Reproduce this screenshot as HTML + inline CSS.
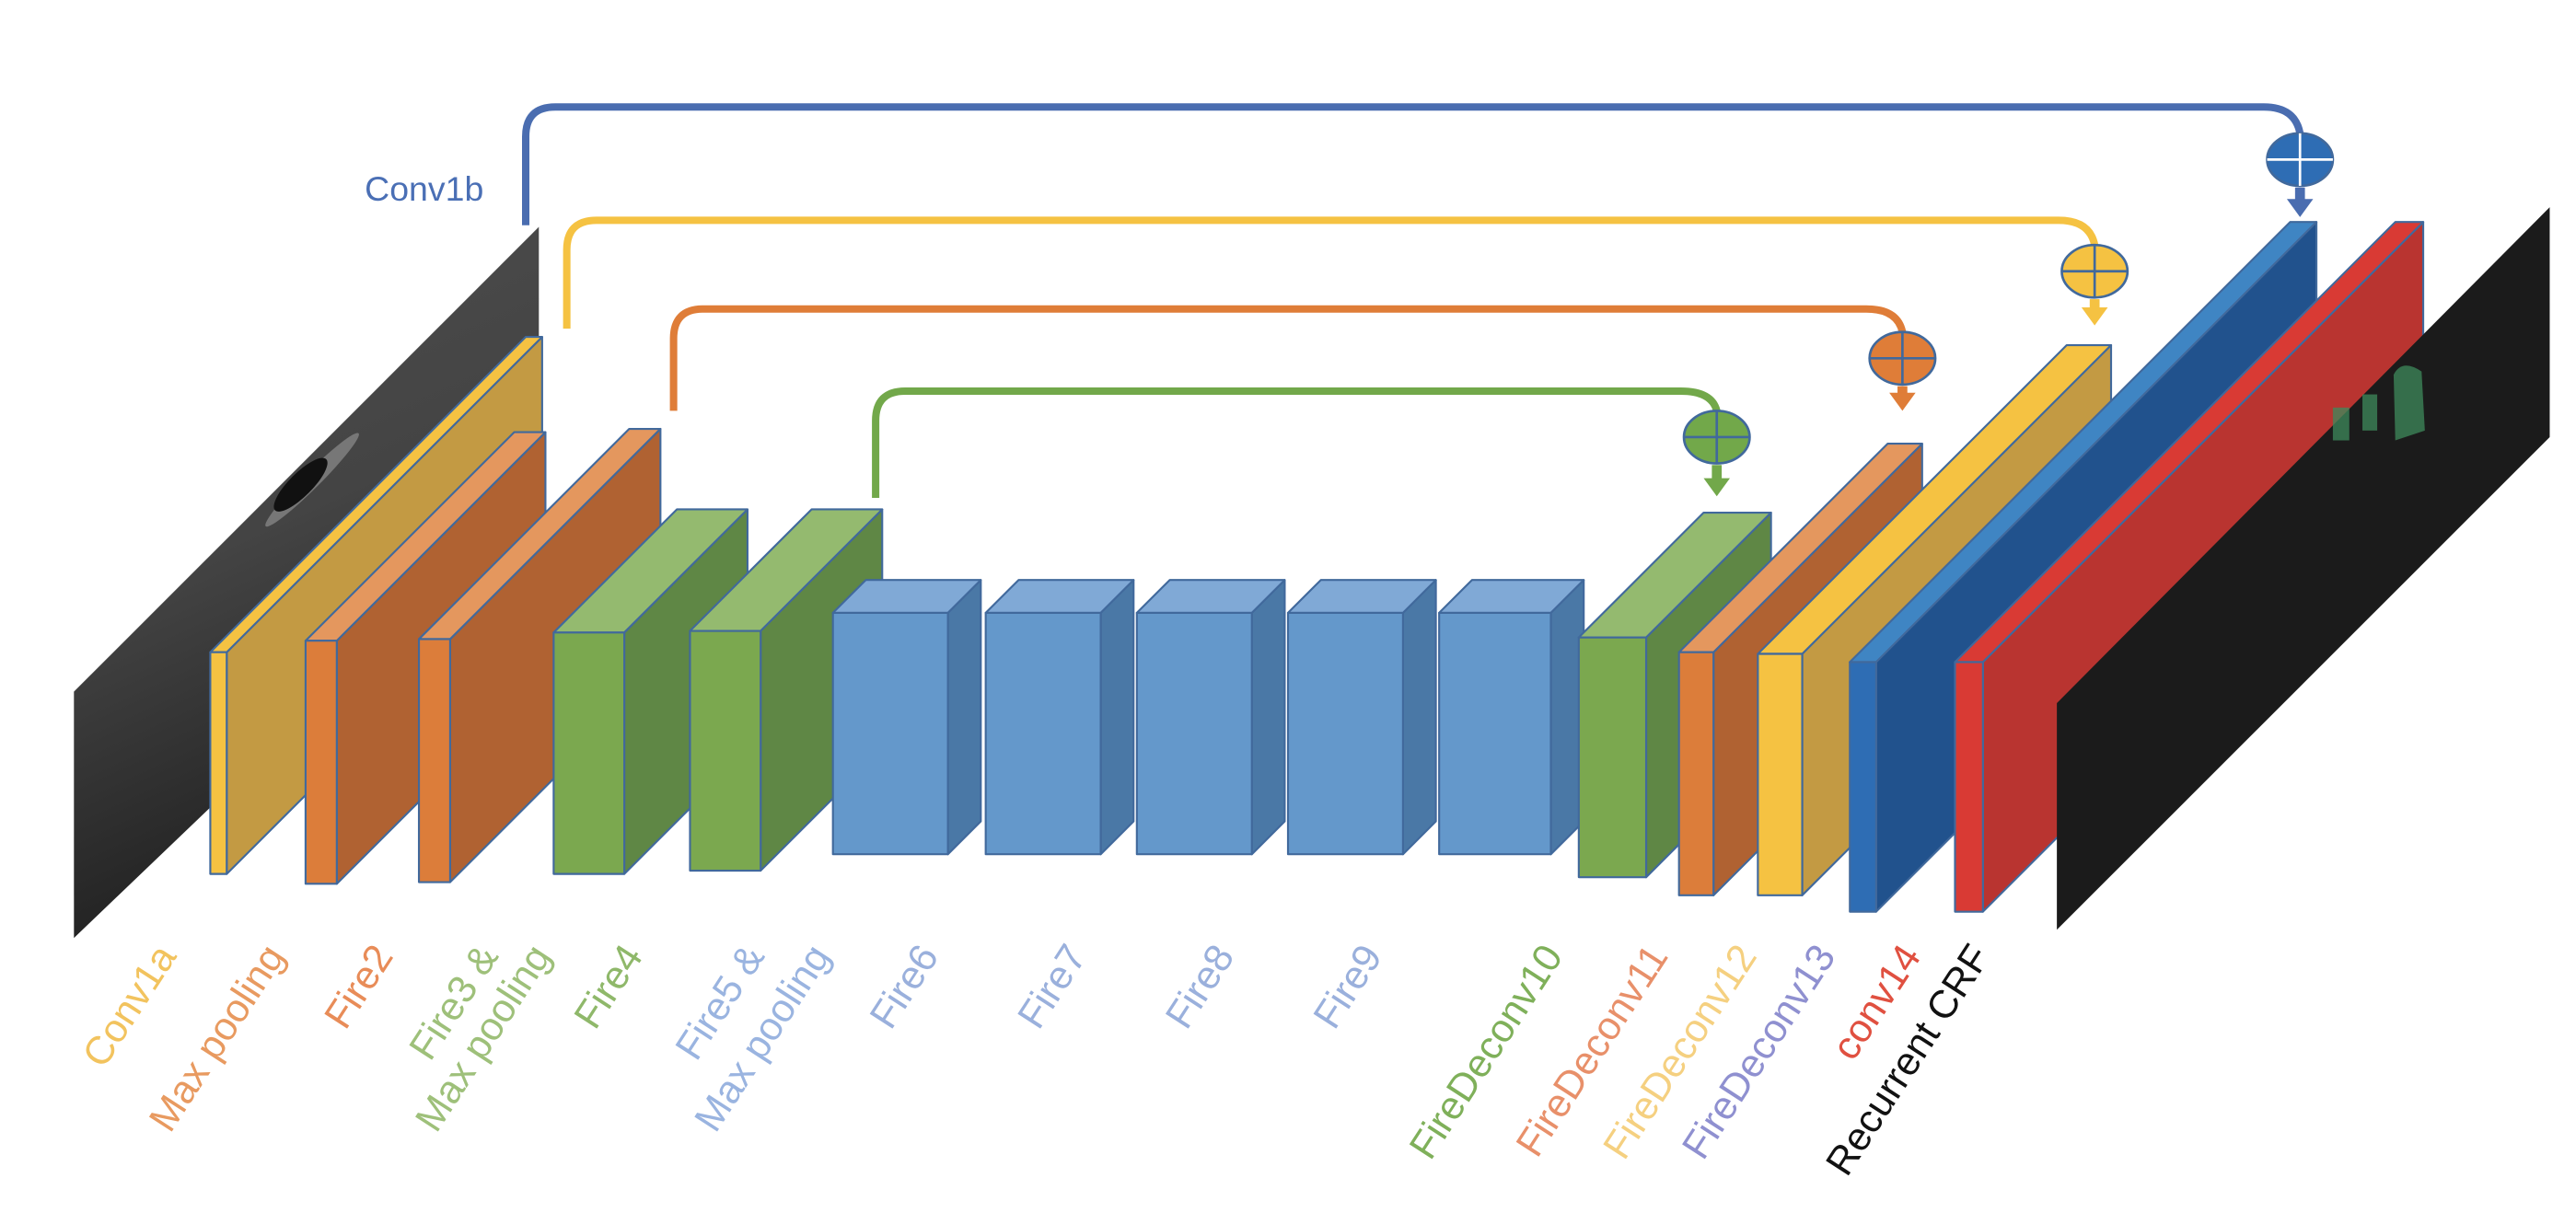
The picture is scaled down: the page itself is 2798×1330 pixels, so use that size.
<!DOCTYPE html>
<html><head><meta charset="utf-8"><style>
html,body{margin:0;padding:0;background:#fff;}
svg{display:block;}
text{font-family:"Liberation Sans",sans-serif;}
</style></head><body>
<svg id="d" width="2798" height="1330" viewBox="0 0 1568 745" xmlns="http://www.w3.org/2000/svg">
<defs>
<linearGradient id="gimg" x1="0" y1="0" x2="0.3" y2="1">
<stop offset="0" stop-color="#4e4e4e"/><stop offset="0.5" stop-color="#444444"/><stop offset="1" stop-color="#1e1e1e"/>
</linearGradient>
<clipPath id="imgclip"><polygon points="45,421 328,138 328,300 45,571"/></clipPath>
</defs>
<g>
<polygon points="45,421 328,138 328,300 45,571" fill="url(#gimg)"/>
<g clip-path="url(#imgclip)">
<ellipse cx="190" cy="292" rx="40" ry="5" transform="rotate(-45 190 292)" fill="#9a9a9a" opacity="0.6"/>
<ellipse cx="183" cy="295" rx="22" ry="7" transform="rotate(-45 183 295)" fill="#111"/>
</g>
</g>
<text x="222" y="122" font-size="21" fill="#4a6fb5">Conv1b</text>
<g id="links"></g>
<g id="blocks"></g>
<polygon points="1252,428 1552,126 1552,266 1252,566" fill="#1b1b1b"/>
<g fill="#3e8a5c" opacity="0.75">
<path d="M1457,228 Q1462,218 1474,226 L1476,262 L1458,268 Z"/>
<rect x="1438" y="240" width="9" height="22"/><rect x="1420" y="248" width="10" height="20"/>
</g>
<g id="labels"></g>
</svg>
<script>
const NS='http://www.w3.org/2000/svg';
function mk(t,a,p){const e=document.createElementNS(NS,t);for(const k in a)e.setAttribute(k,a[k]);p.appendChild(e);return e;}
const blockNames=['conv1a','max-pooling','fire2','fire3','fire4','fire5','fire6','fire7','fire8','fire9','firedeconv10','firedeconv11','firedeconv12','conv14','recurrent-crf-layer'];
const blockX=[128,186,255,337,420,507,600,692,784,876,961,1022,1070,1126,1190];
const blockY=[397,390,389,385,384,373,373,373,373,373,388,397,398,403,403];
const blockW=[10,19,19,43,43,70,70,70,70,68,41,21,27,16,17];
const blockH=[135,148,148,147,146,147,147,147,147,147,146,148,147,152,152];
const blockD=[192,127,128,75,74,20,20,20,20,20,76,127,188,268,268];
const pal={y:['#f5c242','#c39a43','#f5c242'],o:['#dc7d3a','#b06232','#e4975e'],g:['#7ba84f','#5f8745','#94ba6f'],b:['#6498cb','#4a78a6','#80a9d6'],d:['#2e6db4','#21528d','#3f85c3'],r:['#d93a34','#b93430','#d93a34']};
const blockC=['y','o','o','g','g','b','b','b','b','b','g','o','y','d','r'];
const bg=document.getElementById('blocks');
for(let i=0;i<blockNames.length;i++){
 const x=blockX[i],y=blockY[i],w=blockW[i],h=blockH[i],dx=blockD[i],dy=-blockD[i],c=pal[blockC[i]];
 const g=mk('g',{stroke:'#41699c','stroke-width':1.2,'stroke-linejoin':'round'},bg);
 
 
 mk('polygon',{points:`${x+w},${y} ${x+w+dx},${y+dy} ${x+w+dx},${y+h+dy} ${x+w},${y+h}`,fill:c[1]},g);
 mk('polygon',{points:`${x},${y} ${x+w},${y} ${x+w+dx},${y+dy} ${x+dx},${y+dy}`,fill:c[2]},g);
 mk('rect',{x:x,y:y,width:w,height:h,fill:c[0]},g);
}
const linkNames=['conv1b','fire1-skip','fire3-skip','fire5-skip'];
const linkX0=[320,345,410,533];
const linkY0=[137,200,250,303];
const linkBar=[65,134,188,238];
const linkX1=[1400,1275,1158,1045];
const linkCy=[97,165,218,266];
const linkTip=[132,198,250,302];
const linkCol=['#4a6db0','#f5c242','#df7d38','#72a84a'];
const linkFill=['#2e6db4','#f5c242','#df7d38','#72a84a'];
const linkCross=['#ffffff','#41699c','#41699c','#41699c'];
const lg=document.getElementById('links');
for(let i=0;i<linkNames.length;i++){
 const g=mk('g',{},lg);
 
 
 const x0=linkX0[i],y0=linkY0[i],yb=linkBar[i],x1=linkX1[i],cy=linkCy[i],r=18;
 mk('path',{d:`M${x0},${y0} L${x0},${yb+r} Q${x0},${yb} ${x0+r},${yb} L${x1-22},${yb} Q${x1-3},${yb} ${x1},${cy-16}`,fill:'none',stroke:linkCol[i],'stroke-width':4.5},g);
 mk('ellipse',{cx:x1,cy:cy,rx:20,ry:16,fill:linkFill[i],stroke:'#41699c','stroke-width':1.5},g);
 mk('line',{x1:x1-20,y1:cy,x2:x1+20,y2:cy,stroke:linkCross[i],'stroke-width':1.5},g);
 mk('line',{x1:x1,y1:cy-16,x2:x1,y2:cy+16,stroke:linkCross[i],'stroke-width':1.5},g);
 mk('rect',{x:x1-3,y:cy+17,width:6,height:linkTip[i]-cy-27,fill:linkCol[i]},g);
 mk('polygon',{points:`${x1-8},${linkTip[i]-11} ${x1+8},${linkTip[i]-11} ${x1},${linkTip[i]}`,fill:linkCol[i]},g);
}
const labelText=['Conv1a','Max pooling','Fire2','Fire3 &','Max pooling','Fire4','Fire5 &','Max pooling','Fire6','Fire7','Fire8','Fire9','FireDeconv10','FireDeconv11','FireDeconv12','FireDeconv13','conv14','Recurrent CRF'];
const labelEndX=[108,174,240,304,336,392,466,506,572,662,752,842,952,1016,1070,1118,1170,1212];
const labelCol=['#f2c35e','#e89a60','#e88c58','#9ec07a','#9ec07a','#8fb86a','#9ab4e0','#9ab4e0','#9ab0dc','#9ab0dc','#9ab0dc','#9ab0dc','#7fb05a','#e8906a','#f5d080','#8f90d0','#e05040','#111111'];
const lbg=document.getElementById('labels');
for(let i=0;i<labelText.length;i++){
 const x=labelEndX[i],y=582;
 const t=mk('text',{x:x,y:y,'text-anchor':'end','font-size':24,fill:labelCol[i],transform:`rotate(-57 ${x} ${y})`},lbg);
 
 
 t.textContent=labelText[i];
}
</script>
</body></html>
